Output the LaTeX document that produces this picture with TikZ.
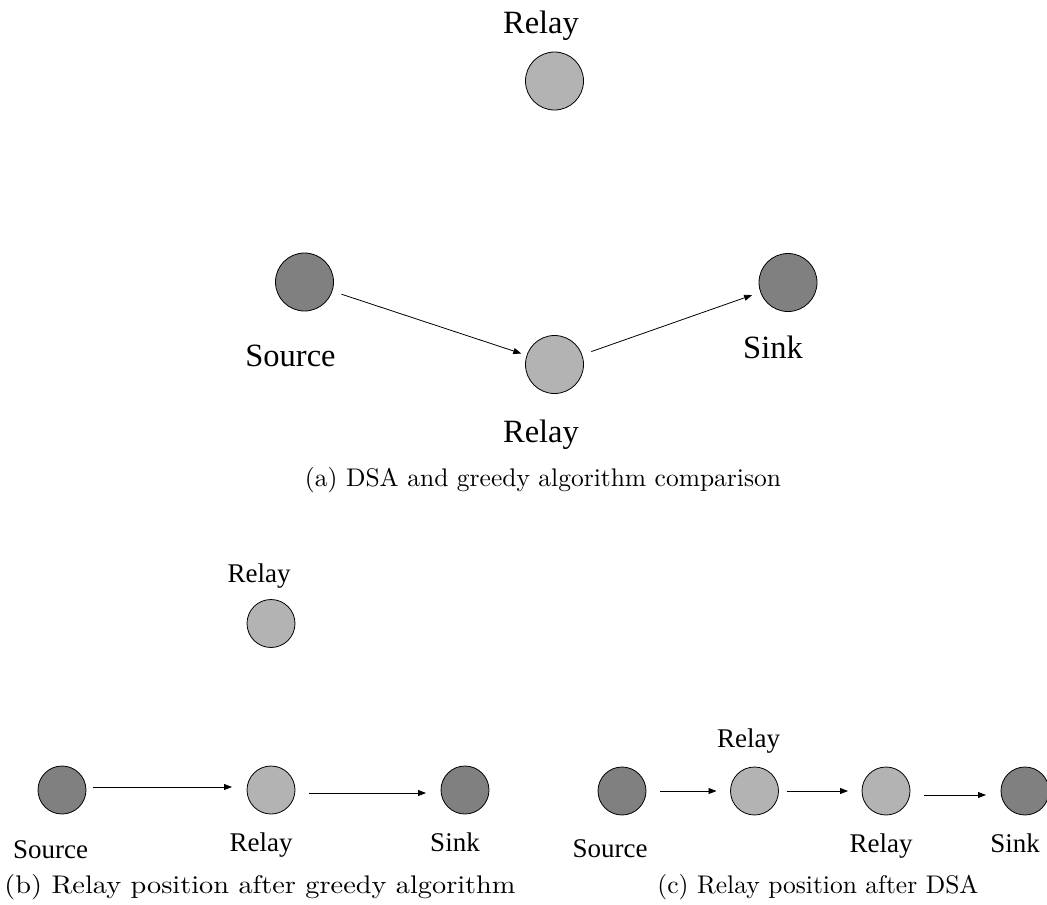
\documentclass[tikz,border=0pt]{standalone}
\usepackage{fontspec}
\newfontfamily\labfont{Liberation Serif}
\newfontfamily\capfont{lmroman10-regular.otf}
\usetikzlibrary{arrows.meta}
\definecolor{darknode}{HTML}{808080}
\definecolor{lightnode}{HTML}{B3B3B3}
\begin{document}
\begin{tikzpicture}[x=1pt,y=-1pt,
  nodeA/.style={circle,draw=black,line width=0.8pt,minimum size=58pt,inner sep=0pt,outer sep=0pt},
  nodeB/.style={circle,draw=black,line width=0.8pt,minimum size=48pt,inner sep=0pt,outer sep=0pt},
  endpt/.style={fill=darknode},
  relay/.style={fill=lightnode},
  lblA/.style={anchor=base,inner sep=0pt,font=\labfont\fontsize{32.5}{36}\selectfont},
  lblB/.style={anchor=base,inner sep=0pt,font=\labfont\fontsize{27}{30}\selectfont},
  capt/.style={anchor=base,inner sep=0pt,font=\capfont\fontsize{25.5}{30}\selectfont},
  arr/.style={-{Triangle[length=8pt,width=6pt]},line width=0.8pt}]
\useasboundingbox (0,0) rectangle (1047,905);

% (a) comparison of both algorithms
\node[nodeA,relay]  (aTop) at (554.5,81) {};
\node[nodeA,endpt]  (aSrc) at (304.5,282) {};
\node[nodeA,relay]  (aRel) at (554.5,364.5) {};
\node[nodeA,endpt]  (aSnk) at (788,282.5) {};
\node[lblA] (aTopL) at (541,33) {Relay};
\node[lblA] (aSrcL) at (290.5,366) {Source};
\node[lblA] (aRelL) at (541,442) {Relay};
\node[lblA] (aSnkL) at (773,358) {Sink};
\draw[arr,shorten <=10pt,shorten >=6pt] (aSrc) -- (aRel);
\draw[arr,shorten <=10pt,shorten >=9pt] (aRel) -- (aSnk);
\node[capt] (capA) at (543,486) {(a) DSA and greedy algorithm comparison};

% (b) greedy placement
\node[nodeB,relay] (bTop) at (271,623.5) {};
\node[nodeB,endpt] (bSrc) at (62,790) {};
\node[nodeB,relay] (bRel) at (271,790) {};
\node[nodeB,endpt] (bSnk) at (465,790) {};
\node[lblB] (bTopL) at (259,582) {Relay};
\node[lblB] (bSrcL) at (50.5,858) {Source};
\node[lblB] (bRelL) at (261,851) {Relay};
\node[lblB] (bSnkL) at (455,851) {Sink};
\draw[arr,shorten <=7pt,shorten >=15pt] ([yshift=3pt]bSrc.east) -- ([yshift=3pt]bRel.west);
\draw[arr,shorten <=14pt,shorten >=15pt] ([yshift=-3pt]bRel.east) -- ([yshift=-3pt]bSnk.west);
\node[capt] (capB) at (260,893) {\scalebox{1.11}[1]{(b) Relay position after greedy algorithm}};

% (c) placement after DSA
\node[nodeB,endpt] (cSrc) at (622,791) {};
\node[nodeB,relay] (cRa)  at (754.5,791) {};
\node[nodeB,relay] (cRb)  at (886,791) {};
\node[nodeB,endpt] (cSnk) at (1025,791) {};
\node[lblB] (cRaL)  at (748.5,747) {Relay};
\node[lblB] (cSrcL) at (610,857) {Source};
\node[lblB] (cRbL)  at (881,852) {Relay};
\node[lblB] (cSnkL) at (1015,852) {Sink};
\draw[arr,shorten <=14pt,shorten >=14pt] (cSrc) -- (cRa);
\draw[arr,shorten <=8pt,shorten >=14pt] (cRa) -- (cRb);
\draw[arr,shorten <=14pt,shorten >=15pt] ([yshift=-4pt]cRb.east) -- ([yshift=-4pt]cSnk.west);
\node[capt] (capC) at (818,893) {(c) Relay position after DSA};
\end{tikzpicture}
\end{document}
